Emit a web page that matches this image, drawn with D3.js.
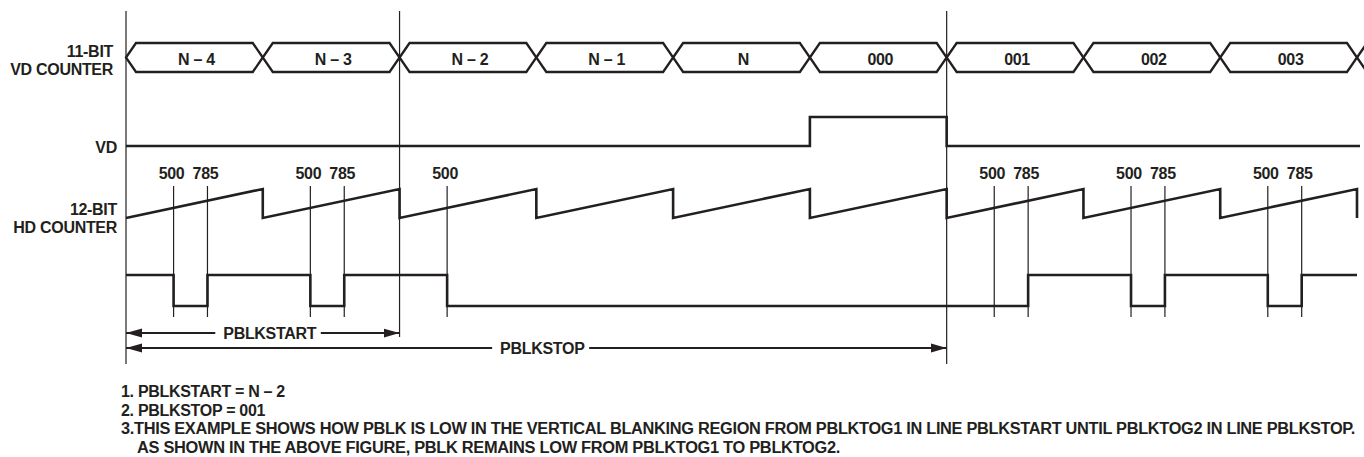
<!DOCTYPE html>
<html lang="en">
<head>
<meta charset="UTF-8">
<title>PBLK Timing</title>
<script src="https://d3js.org/d3.v7.min.js"></script>
<style>
    body { margin: 0; background: #fff; }
    svg { display: block; background: #fff; }
    text {
        font-family: "Liberation Sans", Arial, Helvetica, sans-serif;
        font-weight: bold;
        font-size: 16px;
        letter-spacing: -0.3px;
        fill: #231f20;
    }
    .wave { fill: none; stroke: #231f20; stroke-width: 2.6; stroke-linejoin: miter; }
    .bus { fill: none; stroke: #231f20; stroke-width: 2.3; }
    .thin { stroke: #231f20; stroke-width: 1.2; }
    .dim { stroke: #231f20; stroke-width: 2; }
</style>
</head>
<body>
<svg width="1364" height="457"></svg>
<script>
// one entry per line period of the vertical counter
const vdCounter = ["N – 4", "N – 3", "N – 2", "N – 1", "N", "000", "001", "002", "003", ""];
const vdLevel = [0, 0, 0, 0, 0, 1, 0, 0, 0, 0];
// HD counter values marked in each line
const hdMarks = [[500, 785], [500, 785], [500], [], [], [], [500, 785], [500, 785], [500, 785]];
// counter range drawn across one line (diagram is not to scale)
const hdLo = 100, hdHi = 1250;
// PBLK steps: [line, hd count, level]
const pblkSteps = [
    [0, hdLo, 1], [0, 500, 0], [0, 785, 1],
    [1, 500, 0], [1, 785, 1],
    [2, 500, 0],
    [6, 785, 1],
    [7, 500, 0], [7, 785, 1],
    [8, 500, 0], [8, 785, 1],
    [9, hdLo, 1]
];
const pblkStart = 2;
const pblkStop = 6;
const rowLabels = [
    { lines: ["11-BIT", "VD COUNTER"], y: 57 },
    { lines: ["VD"], y: 153 },
    { lines: ["12-BIT", "HD COUNTER"], y: 215 }
];
const footnotes = [
    "1. PBLKSTART = N – 2",
    "2. PBLKSTOP = 001",
    "3.THIS EXAMPLE SHOWS HOW PBLK IS LOW IN THE VERTICAL BLANKING REGION FROM PBLKTOG1 IN LINE PBLKSTART UNTIL PBLKTOG2 IN LINE PBLKSTOP.",
    "AS SHOWN IN THE ABOVE FIGURE, PBLK REMAINS LOW FROM PBLKTOG1 TO PBLKTOG2."
];

const svg = d3.select("svg");
const ink = "#231f20";

const line = d3.scaleLinear().domain([0, 9]).range([126, 1357]);
const step = line(1) - line(0);
const hd = d3.scaleLinear().domain([hdLo, hdHi]).range([0, step]);
const hx = (l, c) => line(l) + hd(c);

const vdY = d3.scaleLinear().domain([0, 1]).range([146, 117]);
const hdY = d3.scaleLinear().domain([hdLo, hdHi]).range([218, 189]);
const pblkY = d3.scaleLinear().domain([0, 1]).range([306, 275]);
const busTop = 43, busBot = 72, busMid = (busTop + busBot) / 2, slant = 10;

svg.append("defs").append("marker")
    .attr("id", "arrow")
    .attr("viewBox", "0 0 16 10")
    .attr("refX", 16).attr("refY", 5)
    .attr("markerWidth", 16).attr("markerHeight", 10)
    .attr("markerUnits", "userSpaceOnUse")
    .attr("orient", "auto-start-reverse")
    .append("path")
    .attr("d", "M0,0.5L16,5L0,9.5Z")
    .attr("fill", ink);

// tall reference lines
[[0, 364], [pblkStart, 337], [pblkStop, 364]].forEach(([l, y2]) => {
    svg.append("line").attr("class", "thin")
        .attr("x1", line(l)).attr("x2", line(l))
        .attr("y1", 11).attr("y2", y2);
});

// row labels
rowLabels.forEach(r => {
    r.lines.forEach((t, i) => {
        svg.append("text")
            .attr("x", r.y < 100 ? 113 : 117)
            .attr("y", r.y + i * 18)
            .attr("text-anchor", "end")
            .text(t);
    });
});

// VD counter bus
const bus = svg.append("g");
vdCounter.forEach((label, i) => {
    const x0 = line(i), x1 = line(i + 1);
    bus.append("path").attr("class", "bus")
        .attr("d", `M${x0},${busMid}L${x0 + slant},${busTop}L${x1 - slant},${busTop}L${x1},${busMid}L${x1 - slant},${busBot}L${x0 + slant},${busBot}Z`);
    if (label) {
        bus.append("text")
            .attr("x", (x0 + x1) / 2 + 2)
            .attr("y", 65)
            .attr("text-anchor", "middle")
            .text(label);
    }
});

// VD
const vdPts = vdLevel.map((v, i) => [line(i), vdY(v)]);
vdPts.push([1360, vdY(vdLevel[vdLevel.length - 1])]);
svg.append("path").attr("class", "wave")
    .attr("d", d3.line().curve(d3.curveStepAfter)(vdPts));

// HD counter sawtooth
const sawPts = [];
d3.range(9).forEach(i => {
    sawPts.push([hx(i, hdLo), hdY(hdLo)]);
    sawPts.push([hx(i, hdHi), hdY(hdHi)]);
});
sawPts.push([hx(9, hdLo), hdY(hdLo)]);
svg.append("path").attr("class", "wave")
    .attr("d", d3.line()(sawPts));

// HD markers
hdMarks.forEach((marks, i) => {
    marks.forEach(c => {
        const x = hx(i, c);
        svg.append("line").attr("class", "thin")
            .attr("x1", x).attr("x2", x)
            .attr("y1", 186).attr("y2", 317);
        svg.append("text")
            .attr("x", x - 2)
            .attr("y", 179)
            .attr("text-anchor", "middle")
            .text(c);
    });
});

// PBLK
const pblkPts = pblkSteps.map(([l, c, v]) => [hx(l, c), pblkY(v)]);
svg.append("path").attr("class", "wave")
    .attr("d", d3.line().curve(d3.curveStepAfter)(pblkPts));

// dimension arrows
function dimension(l0, l1, y, label, shift) {
    const xa = line(l0), xb = line(l1);
    const t = svg.append("text")
        .attr("x", (xa + xb) / 2 + shift)
        .attr("y", y + 5.5)
        .attr("text-anchor", "middle")
        .text(label);
    const bb = t.node().getBBox();
    svg.append("line").attr("class", "dim")
        .attr("x1", bb.x - 8).attr("x2", xa)
        .attr("y1", y).attr("y2", y)
        .attr("marker-end", "url(#arrow)");
    svg.append("line").attr("class", "dim")
        .attr("x1", bb.x + bb.width + 4).attr("x2", xb)
        .attr("y1", y).attr("y2", y)
        .attr("marker-end", "url(#arrow)");
}
dimension(0, pblkStart, 333, "PBLKSTART", 7);
dimension(0, pblkStop, 348, "PBLKSTOP", 6);

// notes
const noteX = [121, 121, 121, 137];
const noteLen = [null, null, 1234, 703];
footnotes.forEach((n, i) => {
    const t = svg.append("text")
        .attr("x", noteX[i])
        .attr("y", 397 + i * 18.5)
        .text(n);
    if (noteLen[i]) {
        t.attr("textLength", noteLen[i]).attr("lengthAdjust", "spacingAndGlyphs");
    }
});
</script>
</body>
</html>
